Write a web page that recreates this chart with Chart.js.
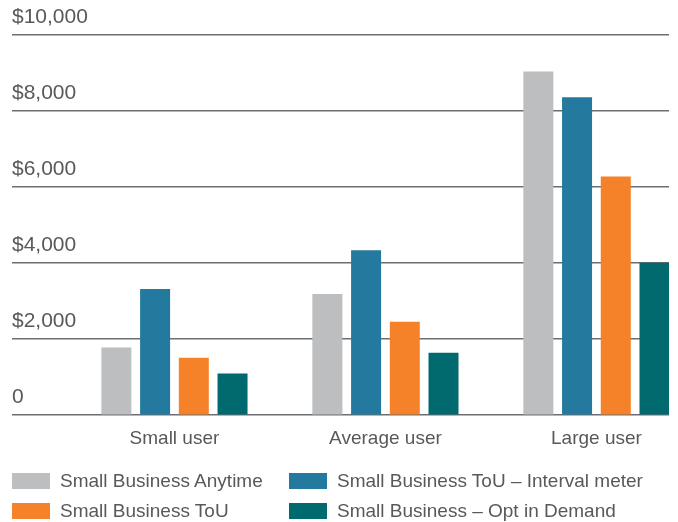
<!DOCTYPE html>
<html>
<head>
<meta charset="utf-8">
<script src="https://cdn.jsdelivr.net/npm/chart.js@4/dist/chart.umd.min.js"></script>
<style>
  html, body { margin: 0; padding: 0; background: #fff; }
  #wrap { position: relative; width: 678px; height: 522px; }
  canvas { display: block; }
  .leg { position: absolute; font-family: "Liberation Sans", Arial, sans-serif; font-size: 19px; color: #58595b; white-space: nowrap; }
  .leg .box { position: absolute; left: 0; width: 38px; height: 16px; }
  .leg .txt { position: absolute; left: 48px; line-height: 22px; top: -3px; }
</style>
</head>
<body>
<div id="wrap">
  <canvas id="c" width="678" height="522"></canvas>
</div>
<script>
const categories = ['Small user', 'Average user', 'Large user'];
const seriesNames = [
  'Small Business Anytime',
  'Small Business ToU – Interval meter',
  'Small Business ToU',
  'Small Business – Opt in Demand'
];
const seriesColors = ['#bcbec0', '#237a9e', '#f58229', '#006a6e'];
const anytime = [1780, 3190, 9040];
const touInterval = [3320, 4340, 8360];
const tou = [1510, 2460, 6280];
const optDemand = [1100, 1645, 4010];
const yTicks = [0, 2000, 4000, 6000, 8000, 10000];

const seriesValues = [anytime, touInterval, tou, optDemand];
const FONT = '"Liberation Sans", Arial, sans-serif';
const TEXT = '#58595b';

const datasets = seriesValues.map((vals, s) => ({
  label: seriesNames[s],
  data: vals.map((v, i) => ({ x: i, y: v })),
  backgroundColor: seriesColors[s],
  borderWidth: 0,
  categoryPercentage: 0.734,
  barPercentage: 0.775
}));

new Chart(document.getElementById('c'), {
  type: 'bar',
  data: { datasets },
  options: {
    responsive: false,
    animation: false,
    layout: { padding: { top: 35, left: 12, right: 9, bottom: 60 } },
    plugins: { legend: { display: false }, tooltip: { enabled: false } },
    scales: {
      x: {
        type: 'linear',
        min: -0.77,
        max: 2.344,
        offset: false,
        afterBuildTicks: (scale) => { scale.ticks = categories.map((_, i) => ({ value: i })); },
        grid: { display: false, drawTicks: false, tickLength: 0 },
        border: { display: false },
        ticks: {
          autoSkip: false,
          maxRotation: 0,
          padding: 12,
          color: TEXT,
          font: { family: FONT, size: 19 },
          callback: (v) => categories[v]
        }
      },
      y: {
        min: 0,
        max: 10000,
        afterBuildTicks: (scale) => { scale.ticks = yTicks.map(v => ({ value: v })); },
        grid: { color: '#6d6e71', lineWidth: 1.5, drawTicks: false },
        border: { display: false },
        ticks: {
          mirror: true,
          padding: 0,
          labelOffset: -18,
          color: TEXT,
          font: { family: FONT, size: 21 },
          callback: (v) => v === 0 ? '0' : '$' + v.toLocaleString('en-US')
        }
      }
    }
  }
});

// Legend (two aligned columns) built from the series arrays
const legendOrder = [0, 1, 2, 3];
const legPos = [
  { left: 12, top: 473 }, { left: 289, top: 473 },
  { left: 12, top: 503 }, { left: 289, top: 503 }
];
const wrap = document.getElementById('wrap');
legendOrder.forEach((s, k) => {
  const d = document.createElement('div');
  d.className = 'leg';
  d.style.left = legPos[k].left + 'px';
  d.style.top = legPos[k].top + 'px';
  const b = document.createElement('div');
  b.className = 'box';
  b.style.background = seriesColors[s];
  const t = document.createElement('div');
  t.className = 'txt';
  t.textContent = seriesNames[s];
  d.appendChild(b); d.appendChild(t);
  wrap.appendChild(d);
});
</script>
</body>
</html>
